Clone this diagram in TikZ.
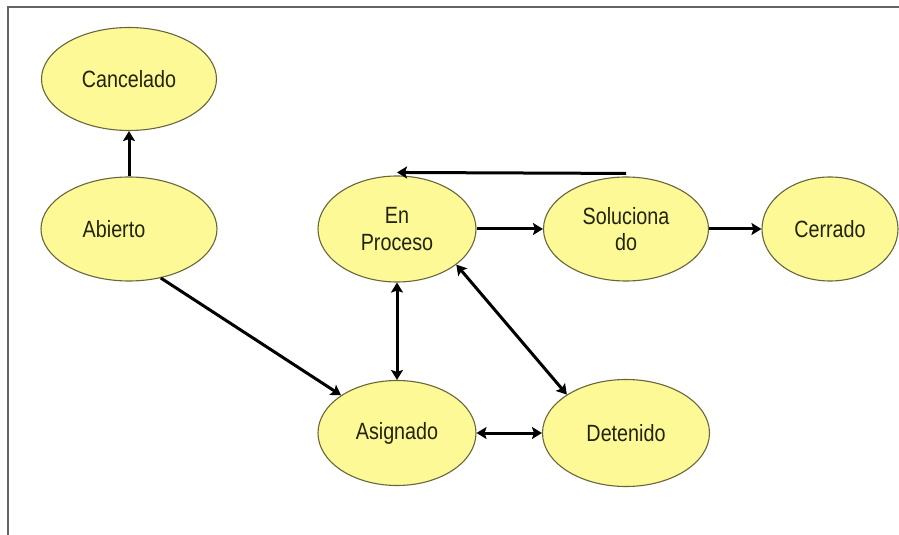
\documentclass[tikz,border=0pt]{standalone}
\usepackage{fontspec}
\setmainfont{Liberation Sans}[FakeStretch=0.84]
\usepackage{tikz}
\usetikzlibrary{arrows.meta,shapes.geometric,positioning}

\definecolor{relleno}{RGB}{252,249,150}
\definecolor{borde}{RGB}{105,102,60}
\definecolor{texto}{RGB}{35,35,15}
\definecolor{marco}{RGB}{100,100,100}

\tikzset{
  estado/.style={ellipse,draw=borde,fill=relleno,line width=1.1pt,inner sep=0pt,
    text=texto,align=center,font=\fontsize{23.5}{26.5}\selectfont},
  flecha/.style={->,line width=3pt,black},
  doble/.style={<->,line width=3pt,black}
}

\begin{document}
\begin{tikzpicture}[>={Stealth[length=10pt,width=12pt,inset=2pt]},x=1pt,y=1pt]
 \useasboundingbox (-129,-306) rectangle (770,229);
 % marco
 \draw[marco,line width=2pt] (-121,-306) -- (-121,222) -- (770,222);

 \node[estado,minimum width=176pt,minimum height=104pt] (abierto) at (0,0) {Abierto\hspace*{30pt}};
 \node[estado,minimum width=175pt,minimum height=103pt]
              (cancelado) [above of=abierto,node distance=150pt] {Cancelado};
 \node[estado,minimum width=158pt,minimum height=106pt]
              (enproceso) [right of=abierto,node distance=268pt] {En\\Proceso};
 \node[estado,minimum width=165pt,minimum height=104pt]
              (solucionado) [right of=enproceso,node distance=229pt] {Soluciona\\do};
 \node[estado,minimum width=136pt,minimum height=104pt]
              (cerrado) [right of=solucionado,node distance=204pt] {Cerrado};
 \node[estado,minimum width=158pt,minimum height=105pt]
              (asignado) [below of=enproceso,node distance=204pt] {Asignado};
 \node[estado,minimum width=167pt,minimum height=107pt]
              (detenido) [right of=asignado,node distance=229pt] {Detenido};

 \draw[flecha] (abierto.north) -- (cancelado.south);
 \draw[flecha] (abierto.-57) -- (asignado.146);
 \draw[doble] (enproceso.south) -- (asignado.north);
 \draw[doble] (enproceso.-31) -- (detenido.147);
 \draw[doble] (asignado.east) -- (detenido.west);
 \draw[flecha] (enproceso.east) -- (solucionado.west);
 \draw[flecha] (solucionado.east) -- (cerrado.west);
 \draw[flecha] ([yshift=3pt]solucionado.north) -- ([yshift=3pt]enproceso.north);
\end{tikzpicture}
\end{document}
